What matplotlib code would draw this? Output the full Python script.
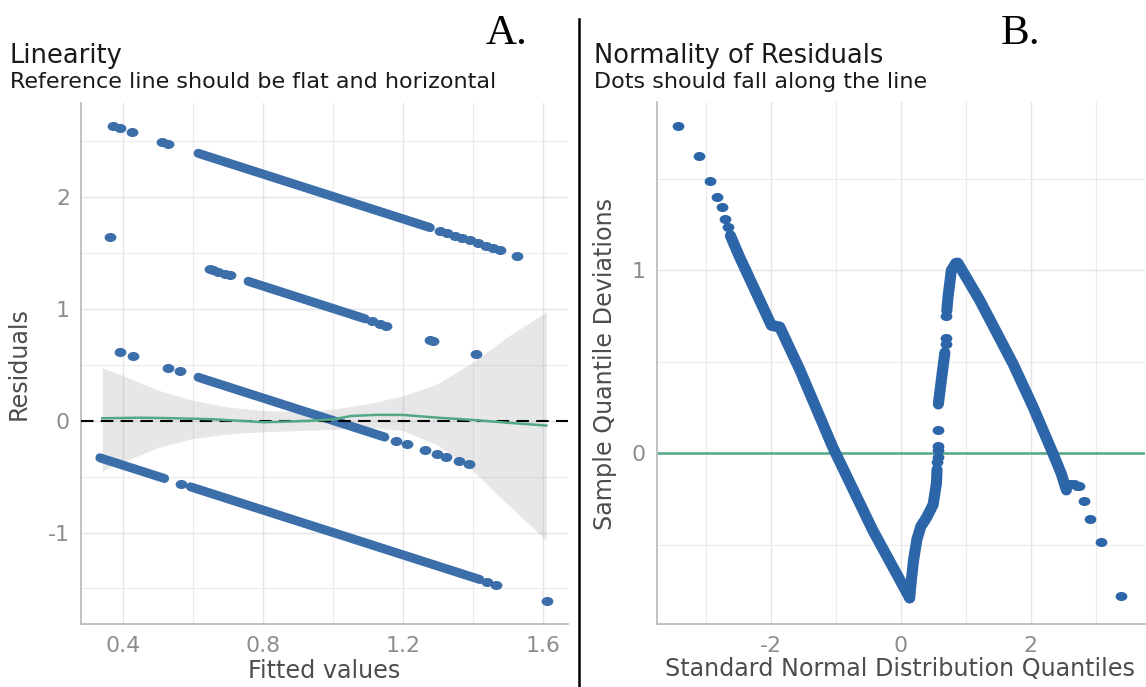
import numpy as np
import matplotlib.pyplot as plt
from matplotlib.lines import Line2D
from matplotlib.path import Path
from matplotlib.transforms import Affine2D

plt.rcParams['font.family'] = ['DejaVu Sans']
plt.rcParams['axes.unicode_minus'] = False

# ---------------- A. Linearity : fitted values vs residuals ----------------
# dense runs of points (start / end of each run)
run_fit_start = [0.614, 0.757, 0.614, 0.333, 0.592]
run_fit_end = [1.278, 1.092, 1.148, 0.518, 1.420]
run_res_start = [2.386, 1.243, 0.386, -0.333, -0.592]
run_res_end = [1.722, 0.908, -0.148, -0.518, -1.420]

# isolated points
fit_pts = [0.371, 0.391, 0.425, 0.511, 0.528, 1.306, 1.326, 1.349, 1.369, 1.392,
           1.415, 1.438, 1.458, 1.478, 1.527,
           0.362, 0.648, 0.657, 0.671, 0.691, 0.705, 1.112, 1.135, 1.152, 1.277,
           1.286, 1.410,
           0.391, 0.428, 0.528, 0.562, 1.180, 1.211, 1.263, 1.297, 1.323, 1.361,
           1.389,
           0.566, 1.440, 1.466, 1.613]
res_pts = [2.629, 2.609, 2.575, 2.489, 2.472, 1.694, 1.674, 1.651, 1.631, 1.608,
           1.585, 1.562, 1.542, 1.522, 1.473,
           1.638, 1.352, 1.343, 1.329, 1.309, 1.295, 0.888, 0.865, 0.848, 0.723,
           0.714, 0.590,
           0.609, 0.572, 0.472, 0.438, -0.180, -0.211, -0.263, -0.297, -0.323,
           -0.361, -0.389,
           -0.566, -1.440, -1.466, -1.613]

# loess smooth and its confidence band
smooth_x = [0.34, 0.45, 0.55, 0.65, 0.72, 0.80, 0.87, 0.95, 1.00, 1.05, 1.12, 1.20,
            1.30, 1.40, 1.50, 1.61]
smooth_y = [0.02, 0.025, 0.02, 0.012, 0.0, -0.015, -0.01, 0.0, 0.01, 0.04, 0.05,
            0.05, 0.025, 0.005, -0.02, -0.045]
rib_x = [0.34, 0.40, 0.50, 0.60, 0.70, 0.80, 0.90, 1.00, 1.10, 1.20, 1.30, 1.40,
         1.50, 1.61]
rib_lo = [-0.45, -0.37, -0.24, -0.16, -0.12, -0.10, -0.09, -0.08, -0.06, -0.09,
          -0.22, -0.45, -0.75, -1.07]
rib_hi = [0.47, 0.40, 0.27, 0.18, 0.12, 0.09, 0.08, 0.10, 0.15, 0.22, 0.33, 0.52,
          0.75, 0.97]

# ---------------- B. Normality of residuals (detrended QQ) ----------------
# dense parts of the curve
qq_curves = [
    ([-2.62, -2.48, -1.99, -1.86, -1.55, -1.046, -0.43, 0.138],
     [1.19, 1.074, 0.70, 0.69, 0.455, 0.034, -0.42, -0.79]),
    ([0.138, 0.165, 0.20, 0.25, 0.31, 0.40, 0.50, 0.55, 0.56],
     [-0.79, -0.69, -0.58, -0.47, -0.40, -0.35, -0.28, -0.164, -0.09]),
    ([0.58, 0.64, 0.68],
     [0.27, 0.44, 0.55]),
    ([0.71, 0.73, 0.78, 0.846, 0.88, 1.215, 1.728, 2.036, 2.343, 2.47, 2.55],
     [0.78, 0.86, 1.0, 1.038, 1.04, 0.838, 0.49, 0.255, 0.0, -0.11, -0.2]),
]
# isolated points
qq_x = [-3.42, -3.11, -2.94, -2.83, -2.75, -2.71, -2.66,
        0.565, 0.57, 0.574, 0.574, 0.574, 0.69, 0.70, 0.705,
        2.60, 2.66, 2.72, 2.75, 2.815, 2.92, 3.09, 3.395]
qq_y = [1.79, 1.625, 1.49, 1.40, 1.345, 1.28, 1.24,
        -0.05, -0.02, 0.02, 0.04, 0.13, 0.60, 0.63, 0.75,
        -0.17, -0.17, -0.18, -0.18, -0.26, -0.36, -0.483, -0.778]

blue_a = '#3c6ea9'
blue_b = '#2c66a9'
green = '#53a884'
W, H = 1146, 687

# the picture is stretched sideways, so the dots are a bit wide
ell = Affine2D().scale(1.3, 1.0).transform_path(Path.unit_circle())

fig = plt.figure(figsize=(W / 100, H / 100), dpi=100)
ax1 = fig.add_axes([81 / W, 1 - 624 / H, 487 / W, 521 / H])
ax2 = fig.add_axes([657 / W, 1 - 624 / H, 488 / W, 522 / H])


def style(ax):
    ax.set_axisbelow(True)
    for s in ['top', 'right']:
        ax.spines[s].set_visible(False)
    for s in ['left', 'bottom']:
        ax.spines[s].set_color('#b8b8b8')
        ax.spines[s].set_linewidth(1.2)
    ax.grid(which='major', color='#e4e4e4', lw=1.0)
    ax.grid(which='minor', color='#ececec', lw=0.8)
    ax.tick_params(which='both', length=0, labelsize=15.8, labelcolor='#8c8c8c')
    ax.tick_params(axis='x', pad=9)
    ax.tick_params(axis='y', pad=8)


# panel A
ax1.fill_between(rib_x, rib_lo, rib_hi, color='#b0b0b0', alpha=0.3, lw=0, zorder=1)
for x0, x1, y0, y1 in zip(run_fit_start, run_fit_end, run_res_start, run_res_end):
    ax1.plot([x0, x1], [y0, y1], color=blue_a, lw=6.5, solid_capstyle='round', zorder=2)
ax1.plot(fit_pts, res_pts, ls='none', marker=ell, ms=8.5, mew=0, color=blue_a, zorder=2)
ax1.axhline(0, color='black', lw=1.5, ls=(0, (6, 3.5)), zorder=3)
ax1.plot(smooth_x, smooth_y, color=green, lw=1.8, zorder=4)
ax1.set_xlim(0.279, 1.672)
ax1.set_ylim(-1.817, 2.835)
ax1.set_xticks([0.4, 0.8, 1.2, 1.6])
ax1.set_xticks([0.6, 1.0, 1.4], minor=True)
ax1.set_yticks([-1, 0, 1, 2])
ax1.set_yticks([-1.5, -0.5, 0.5, 1.5, 2.5], minor=True)
style(ax1)

# panel B
ax2.axhline(0, color=green, lw=1.8, zorder=1)
for cx, cy in qq_curves:
    ax2.plot(cx, cy, color=blue_b, lw=8.0, solid_capstyle='round',
             solid_joinstyle='round', zorder=2)
ax2.plot(qq_x, qq_y, ls='none', marker=ell, ms=8.5, mew=0, color=blue_b, zorder=2)
ax2.set_xlim(-3.75, 3.76)
ax2.set_ylim(-0.933, 1.921)
ax2.set_xticks([-2, 0, 2])
ax2.set_xticks([-3, -1, 1, 3], minor=True)
ax2.set_yticks([0, 1])
ax2.set_yticks([-0.5, 0.5, 1.5], minor=True)
style(ax2)

# texts
tc = '#1a1a1a'
fig.text(10 / W, 1 - 63 / H, 'Linearity', fontsize=18.5, color=tc, va='baseline')
fig.text(10 / W, 1 - 88 / H, 'Reference line should be flat and horizontal',
         fontsize=16, color=tc, va='baseline')
fig.text(594 / W, 1 - 63 / H, 'Normality of Residuals', fontsize=18.5, color=tc,
         va='baseline')
fig.text(594 / W, 1 - 88 / H, 'Dots should fall along the line', fontsize=16,
         color=tc, va='baseline')

fig.text(324 / W, 1 - 678 / H, 'Fitted values', fontsize=17.2, color='#4d4d4d',
         ha='center', va='baseline')
fig.text(900 / W, 1 - 676 / H, 'Standard Normal Distribution Quantiles',
         fontsize=17.2, color='#4d4d4d', ha='center', va='baseline')
fig.text(19 / W, 1 - 364 / H, 'Residuals', fontsize=17.2, color='#4d4d4d',
         rotation=90, ha='center', va='center')
fig.text(605 / W, 1 - 364 / H, 'Sample Quantile Deviations', fontsize=17.2,
         color='#4d4d4d', rotation=90, ha='center', va='center')

fig.text(486 / W, 1 - 44 / H, 'A.', fontsize=31, family='Liberation Serif',
         color='black', va='baseline')
fig.text(1001 / W, 1 - 44 / H, 'B.', fontsize=31, family='Liberation Serif',
         color='black', va='baseline')

# divider between the two panels
fig.add_artist(Line2D([579 / W, 579 / W], [0, 1 - 19 / H], color='black', lw=1.8))

fig.savefig('out.png', dpi=100)
